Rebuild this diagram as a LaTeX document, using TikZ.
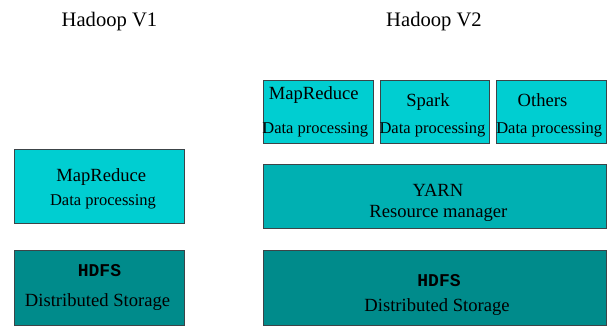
\documentclass[tikz,border=0pt]{standalone}
\usepackage{fontspec}
\setmainfont{Liberation Serif}
\newfontfamily\codefont{Liberation Mono}
\definecolor{procfill}{HTML}{00CED1}
\definecolor{yarnfill}{HTML}{00B0B2}
\definecolor{storefill}{HTML}{008B8B}
\definecolor{edgegray}{HTML}{3C4448}
\tikzset{
  blk/.style={draw=edgegray, line width=0.9pt, inner sep=0pt, anchor=north west},
  proc/.style={blk, fill=procfill},
  yarn/.style={blk, fill=yarnfill},
  store/.style={blk, fill=storefill},
  title/.style={anchor=base, inner sep=0pt, font=\fontsize{20.6}{24}\selectfont},
  big/.style={anchor=base, inner sep=0pt, font=\fontsize{18.6}{22}\selectfont},
  small/.style={anchor=base, inner sep=0pt, font=\fontsize{16.5}{20}\selectfont},
  code/.style={anchor=base, inner sep=0pt, font=\codefont\bfseries\fontsize{18}{22}\selectfont}
}
\begin{document}
\begin{tikzpicture}[x=1pt, y=-1pt]
\useasboundingbox (0,0) rectangle (610,326);

% column titles
\node[title] (t1) at (109.5,27) {Hadoop V1};
\node[title] (t2) at (434,27) {Hadoop V2};

% Hadoop V1 stack
\node[proc, minimum width=170pt, minimum height=74pt] (mr1) at (14,149) {};
\node[big] (mr1a) at (101.3,181.7) {MapReduce};
\node[small] (mr1b) at (103,205.7) {Data processing};

\node[store, minimum width=170pt, minimum height=75pt] (hd1) at (14,249.5) {};
\node[code] (hd1a) at (99.5,276.5) {HDFS};
\node[big] (hd1b) at (97.5,306.7) {Distributed Storage};

% Hadoop V2 processing engines
\node[proc, minimum width=110pt, minimum height=63pt] (mr2) at (262.5,80.3) {};
\node[big] (mr2a) at (313.7,100) {MapReduce};
\node[small] (mr2b) at (315.3,133.3) {Data processing};

\node[proc, minimum width=109.5pt, minimum height=63pt] (sp) at (379.5,80.3) {};
\node[big] (spa) at (428,106.7) {Spark};
\node[small] (spb) at (432.5,133.3) {Data processing};

\node[proc, minimum width=109.5pt, minimum height=63pt] (ot) at (496.2,80.3) {};
\node[big] (ota) at (542.5,106.7) {Others};
\node[small] (otb) at (549.2,133.3) {Data processing};

% Hadoop V2 resource layer and storage
\node[yarn, minimum width=343pt, minimum height=64pt] (yr) at (262.7,164.3) {};
\node[big] (yra) at (438,196) {YARN};
\node[big] (yrb) at (438.3,217.3) {Resource manager};

\node[store, minimum width=343pt, minimum height=75pt] (hd2) at (262.7,249.5) {};
\node[code] (hd2a) at (439,286.7) {HDFS};
\node[big] (hd2b) at (437,311.7) {Distributed Storage};
\end{tikzpicture}
\end{document}
